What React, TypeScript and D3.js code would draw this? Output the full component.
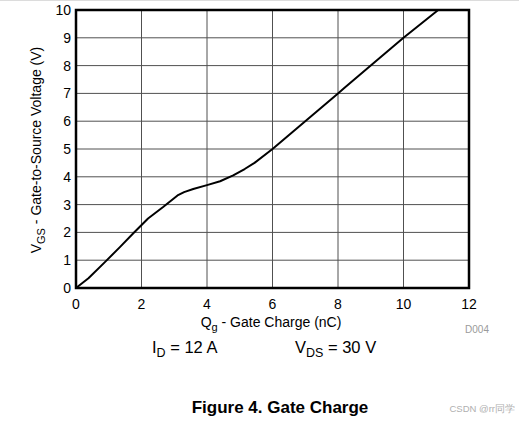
import { useEffect, useRef } from 'react';
import * as d3 from 'd3';

// gate charge curve
const qg = [0, 0.38, 0.89, 1.34, 1.75, 2.2, 2.67, 3.1, 3.3, 3.58, 4.0, 4.4, 4.8, 5.15, 5.45, 6.0, 7.0, 8.0, 8.2, 9.0, 10.0, 11.06];
const vgs = [0, 0.35, 0.94, 1.47, 1.97, 2.5, 2.92, 3.33, 3.45, 3.56, 3.7, 3.84, 4.05, 4.28, 4.5, 5.0, 6.0, 7.0, 7.2, 8.0, 9.0, 10.0];
const xTicks = [0, 2, 4, 6, 8, 10, 12];
const yTicks = [0, 1, 2, 3, 4, 5, 6, 7, 8, 9, 10];

export default function App() {
  const svgRef = useRef<SVGSVGElement>(null);

  useEffect(() => {
    if (!svgRef.current) return;
    const width = 519;
    const height = 421;
    const margin = { top: 10, right: 50, bottom: 133, left: 76 };
    const innerWidth = width - margin.left - margin.right;
    const innerHeight = height - margin.top - margin.bottom;
    const font = '"Liberation Sans", Arial, sans-serif';

    const svg = d3.select(svgRef.current);
    svg.selectAll('*').remove();

    svg.append('line')
      .attr('x1', 0).attr('x2', width)
      .attr('y1', 0.5).attr('y2', 0.5)
      .attr('stroke', '#dcdcdc');

    const g = svg.append('g')
      .attr('transform', `translate(${margin.left},${margin.top})`);

    const x = d3.scaleLinear().domain([0, 12]).range([0, innerWidth]);
    const y = d3.scaleLinear().domain([0, 10]).range([innerHeight, 0]);

    // grid
    g.selectAll('.vgrid')
      .data(xTicks.slice(1, -1))
      .join('line')
      .attr('x1', d => x(d)).attr('x2', d => x(d))
      .attr('y1', 0).attr('y2', innerHeight)
      .attr('stroke', '#505050')
      .attr('stroke-width', 1);
    g.selectAll('.hgrid')
      .data(yTicks.slice(1, -1))
      .join('line')
      .attr('x1', 0).attr('x2', innerWidth)
      .attr('y1', d => y(d)).attr('y2', d => y(d))
      .attr('stroke', '#505050')
      .attr('stroke-width', 1);

    // curve
    const pts = qg.map((q, i) => [q, vgs[i]] as [number, number]);
    g.append('path')
      .datum(pts)
      .attr('fill', 'none')
      .attr('stroke', '#000')
      .attr('stroke-width', 2)
      .attr('stroke-linejoin', 'round')
      .attr('d', d3.line<[number, number]>()
        .x(d => x(d[0]))
        .y(d => y(d[1])));

    // frame
    g.append('rect')
      .attr('x', 0).attr('y', 0)
      .attr('width', innerWidth).attr('height', innerHeight)
      .attr('fill', 'none')
      .attr('stroke', '#000')
      .attr('stroke-width', 2.5);

    // tick labels
    g.selectAll('.xt')
      .data(xTicks)
      .join('text')
      .attr('x', d => x(d))
      .attr('y', innerHeight + 21)
      .attr('text-anchor', 'middle')
      .style('font-family', font)
      .style('font-size', '14px')
      .text(d => d);
    g.selectAll('.yt')
      .data(yTicks)
      .join('text')
      .attr('x', -5)
      .attr('y', d => y(d))
      .attr('dy', '0.35em')
      .attr('text-anchor', 'end')
      .style('font-family', font)
      .style('font-size', '14px')
      .text(d => d);

    // axis titles
    const xt = svg.append('text')
      .attr('x', 271)
      .attr('y', 327)
      .attr('text-anchor', 'middle')
      .style('font-family', font)
      .style('font-size', '14px');
    xt.append('tspan').text('Q');
    xt.append('tspan').attr('dy', 4).style('font-size', '11px').text('g');
    xt.append('tspan').attr('dy', -4).text(' - Gate Charge (nC)');

    const yt = svg.append('text')
      .attr('transform', 'translate(41,150) rotate(-90)')
      .attr('text-anchor', 'middle')
      .style('font-family', font)
      .style('font-size', '14px');
    yt.append('tspan').text('V');
    yt.append('tspan').attr('dy', 4).style('font-size', '11px').text('GS');
    yt.append('tspan').attr('dy', -4).text(' - Gate-to-Source Voltage (V)');

    svg.append('text')
      .attr('x', 477)
      .attr('y', 333)
      .attr('text-anchor', 'middle')
      .style('font-family', font)
      .style('font-size', '10px')
      .style('fill', '#9a9a9a')
      .text('D004');

    const id = svg.append('text')
      .attr('x', 152)
      .attr('y', 353)
      .style('font-family', font)
      .style('font-size', '16.5px');
    id.append('tspan').text('I');
    id.append('tspan').attr('dy', 4).style('font-size', '12.5px').text('D');
    id.append('tspan').attr('dy', -4).text(' = 12 A');

    const vds = svg.append('text')
      .attr('x', 295)
      .attr('y', 353)
      .style('font-family', font)
      .style('font-size', '16.5px');
    vds.append('tspan').text('V');
    vds.append('tspan').attr('dy', 4).style('font-size', '12.5px').text('DS');
    vds.append('tspan').attr('dy', -4).text(' = 30 V');

    svg.append('text')
      .attr('x', 280)
      .attr('y', 413)
      .attr('text-anchor', 'middle')
      .style('font-family', font)
      .style('font-size', '17px')
      .style('font-weight', 'bold')
      .text('Figure 4. Gate Charge');

    svg.append('text')
      .attr('x', 515)
      .attr('y', 412)
      .attr('text-anchor', 'end')
      .style('font-family', font)
      .style('font-size', '9.5px')
      .style('fill', '#b0b0b0')
      .text('CSDN @rr同学');
  }, []);

  return (
    <div style={{ position: 'absolute', left: 0, top: 0 }}>
      <svg ref={svgRef} width={519} height={421} style={{ display: 'block', background: '#fff' }}></svg>
    </div>
  );
}
